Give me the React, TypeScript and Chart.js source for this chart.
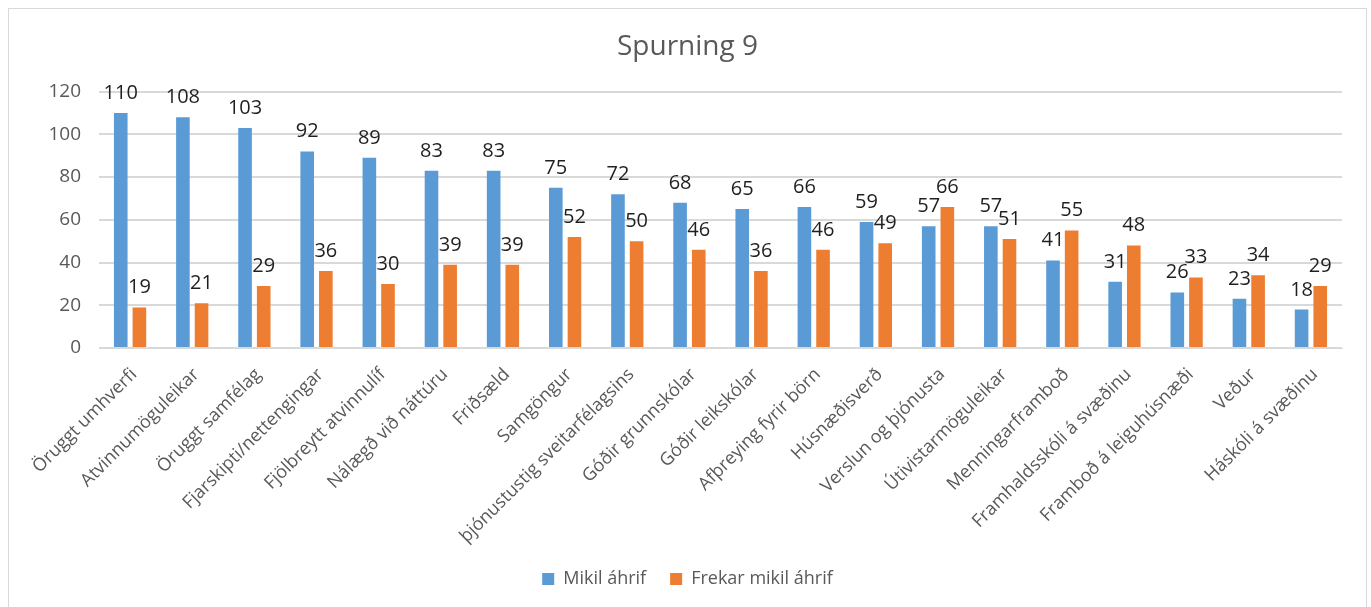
import React, { useEffect, useRef } from "react";
import { Chart, registerables } from "chart.js";

Chart.register(...registerables);

const categories = [
  "Öruggt umhverfi",
  "Atvinnumöguleikar",
  "Öruggt samfélag",
  "Fjarskipti/nettengingar",
  "Fjölbreytt atvinnulíf",
  "Nálægð við náttúru",
  "Friðsæld",
  "Samgöngur",
  "þjónustustig sveitarfélagsins",
  "Góðir grunnskólar",
  "Góðir leikskólar",
  "Afþreying fyrir börn",
  "Húsnæðisverð",
  "Verslun og þjónusta",
  "Útivistarmöguleikar",
  "Menningarframboð",
  "Framhaldsskóli á svæðinu",
  "Framboð á leiguhúsnæði",
  "Veður",
  "Háskóli á svæðinu",
];

const mikilAhrif = [110, 108, 103, 92, 89, 83, 83, 75, 72, 68, 65, 66, 59, 57, 57, 41, 31, 26, 23, 18];
const frekarMikilAhrif = [19, 21, 29, 36, 30, 39, 39, 52, 50, 46, 36, 46, 49, 66, 51, 55, 48, 33, 34, 29];

const seriesNames = ["Mikil áhrif", "Frekar mikil áhrif"];
const titleText = "Spurning 9";

const FONT = "'Open Sans', 'Noto Sans', sans-serif";

const dataLabelPlugin = {
  id: "dataLabels",
  afterDatasetsDraw(chart: any) {
    const ctx = chart.ctx;
    ctx.save();
    ctx.font = `20px ${FONT}`;
    ctx.fillStyle = "#1f1f1f";
    ctx.textAlign = "center";
    ctx.textBaseline = "alphabetic";
    chart.data.datasets.forEach((ds: any, i: number) => {
      const meta = chart.getDatasetMeta(i);
      meta.data.forEach((bar: any, j: number) => {
        ctx.fillText(String(ds.data[j]), bar.x, bar.y - 14);
      });
    });
    ctx.restore();
  },
};

export default function App() {
  const ref = useRef<HTMLCanvasElement | null>(null);
  useEffect(() => {
    if (!ref.current) return;
    const chart = new Chart(ref.current, {
      type: "bar",
      data: {
        labels: categories,
        datasets: [
          {
            label: seriesNames[0],
            data: mikilAhrif,
            backgroundColor: "#5B9BD5",
            barPercentage: 0.73,
            categoryPercentage: 0.6,
          },
          {
            label: seriesNames[1],
            data: frekarMikilAhrif,
            backgroundColor: "#ED7D31",
            barPercentage: 0.73,
            categoryPercentage: 0.6,
          },
        ],
      },
      options: {
        animation: false,
        responsive: true,
        maintainAspectRatio: false,
        layout: { padding: { left: 24, right: 24, top: 0, bottom: 11 } },
        plugins: {
          title: {
            display: true,
            text: titleText,
            color: "#595959",
            font: { family: FONT, size: 28, weight: "normal" },
            padding: { top: 21, bottom: 28 },
          },
          legend: {
            position: "bottom",
            labels: {
              color: "#595959",
              font: { family: FONT, size: 18 },
              boxWidth: 12,
              boxHeight: 12,
              padding: 24,
            },
          },
          tooltip: { enabled: false },
        },
        scales: {
          x: {
            grid: { display: false, drawTicks: false },
            border: { display: true, color: "#d9d9d9", width: 1 },
            ticks: {
              color: "#595959",
              font: { family: FONT, size: 18 },
              minRotation: 45,
              maxRotation: 45,
              autoSkip: false,
              padding: 16,
              labelOffset: 4,
            },
            afterFit: (scale: any) => {
              scale.height = 198;
            },
          },
          y: {
            min: 0,
            max: 120,
            ticks: {
              stepSize: 20,
              color: "#595959",
              font: { family: FONT, size: 19 },
              padding: 18,
            },
            grid: { color: "#d9d9d9", lineWidth: 2, drawTicks: false },
            border: { display: false },
            afterFit: (scale: any) => {
              scale.width = 66;
            },
          },
        },
      },
      plugins: [dataLabelPlugin],
    });
    return () => chart.destroy();
  }, []);

  return (
    <div
      style={{
        position: "fixed",
        left: 8,
        top: 8,
        width: 1359,
        height: 602,
        boxSizing: "border-box",
        border: "1px solid #d9d9d9",
        background: "#fff",
      }}
    >
      <canvas ref={ref} />
    </div>
  );
}
